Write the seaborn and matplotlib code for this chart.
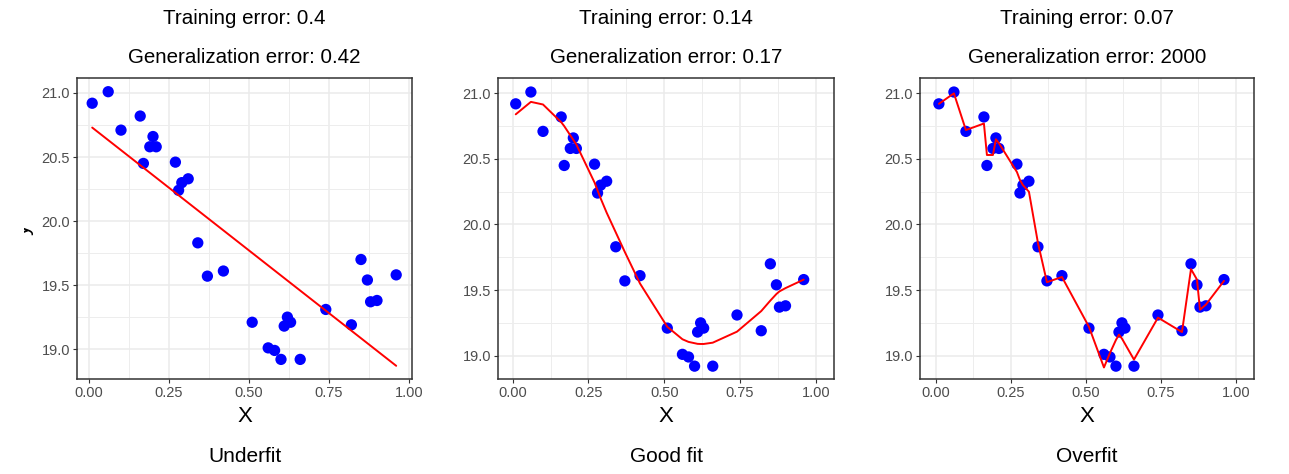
import matplotlib
matplotlib.use("Agg")
import matplotlib.pyplot as plt
import seaborn as sns
from matplotlib.ticker import MultipleLocator, FormatStrFormatter
from matplotlib.transforms import Bbox

# ---------------- data ----------------
x_vals = [0.01, 0.06, 0.10, 0.16, 0.17, 0.19, 0.20, 0.21, 0.27, 0.28, 0.29, 0.31,
          0.34, 0.37, 0.42, 0.51, 0.56, 0.58, 0.60, 0.61, 0.62, 0.63, 0.66, 0.74,
          0.82, 0.85, 0.87, 0.88, 0.90, 0.96]
y_vals = [20.92, 21.01, 20.71, 20.82, 20.45, 20.58, 20.66, 20.58, 20.46, 20.24, 20.30, 20.33,
          19.83, 19.57, 19.61, 19.21, 19.01, 18.99, 18.92, 19.18, 19.25, 19.21, 18.92, 19.31,
          19.19, 19.70, 19.54, 19.37, 19.38, 19.58]

underfit_x = [0.01, 0.96]
underfit_y = [20.73, 18.87]

goodfit_y = [20.84, 20.935, 20.915, 20.78, 20.75, 20.68, 20.645, 20.61, 20.32, 20.26, 20.20, 20.09,
             19.94, 19.79, 19.55, 19.22, 19.125, 19.105, 19.095, 19.09, 19.089, 19.089, 19.099, 19.183,
             19.34, 19.42, 19.47, 19.49, 19.515, 19.58]

overfit_y = [20.92, 21.00, 20.72, 20.77, 20.53, 20.53, 20.65, 20.62, 20.40, 20.34, 20.30, 20.25,
             19.86, 19.56, 19.60, 19.22, 18.91, 19.02, 19.12, 19.16, 19.13, 19.09, 18.97, 19.29,
             19.18, 19.66, 19.58, 19.35, 19.39, 19.57]

training_errors = ["0.4", "0.14", "0.07"]
generalization_errors = ["0.42", "0.17", "2000"]
panel_names = ["Underfit", "Good fit", "Overfit"]

# ---------------- style ----------------
sns.set_theme(style="whitegrid")
plt.rcParams['font.family'] = ['Liberation Sans', 'DejaVu Sans']

W, H = 1289, 474
fig = plt.figure(figsize=(W / 100, H / 100), dpi=100)
fig.patch.set_facecolor("white")

top_px, bot_px = 78, 379
panels = [
    dict(l=77, r=412, xlim=(-0.0375, 1.0094), ylim=(18.767, 21.117),
         lx=underfit_x, ly=underfit_y),
    dict(l=498, r=834, xlim=(-0.0485, 1.060), ylim=(18.822, 21.117),
         lx=x_vals, ly=goodfit_y),
    dict(l=920, r=1254, xlim=(-0.053, 1.060), ylim=(18.822, 21.117),
         lx=x_vals, ly=overfit_y),
]

ah = bot_px - top_px
for i, p in enumerate(panels):
    ax = fig.add_axes([p["l"] / W, 1 - bot_px / H, (p["r"] - p["l"]) / W, ah / H])
    ax.set_facecolor("white")
    sns.scatterplot(x=x_vals, y=y_vals, color="#0000FF", s=66, edgecolor="none",
                    linewidth=0, ax=ax, zorder=3)
    sns.lineplot(x=p["lx"], y=p["ly"], color="#FF0000", linewidth=1.4, ax=ax,
                 sort=False, estimator=None, zorder=4)
    ax.set_xlim(*p["xlim"])
    ax.set_ylim(*p["ylim"])
    ax.xaxis.set_major_locator(MultipleLocator(0.25))
    ax.xaxis.set_minor_locator(MultipleLocator(0.125))
    ax.yaxis.set_major_locator(MultipleLocator(0.5))
    ax.yaxis.set_minor_locator(MultipleLocator(0.25))
    ax.xaxis.set_major_formatter(FormatStrFormatter("%.2f"))
    ax.yaxis.set_major_formatter(FormatStrFormatter("%.1f"))
    ax.grid(which="major", color="#EBEBEB", linewidth=1.1)
    ax.grid(which="minor", color="#EDEDED", linewidth=0.7)
    ax.set_axisbelow(True)
    for s in ax.spines.values():
        s.set_color("#333333")
        s.set_linewidth(1.1)
    ax.tick_params(which="major", bottom=True, left=True, length=3, width=0.8,
                   color="#333333", labelsize=10.5, labelcolor="#4D4D4D", pad=2)
    ax.tick_params(which="minor", length=0)

    ax.set_xlabel("X", fontsize=16, color="black")
    ax.xaxis.label.set_va("center")
    ax.xaxis.set_label_coords(0.5, (bot_px - 416) / ah)
    ax.set_ylabel("")

    ax.text(0.5, (bot_px - 19) / ah, f"Training error: {training_errors[i]}",
            transform=ax.transAxes, ha="center", va="center", fontsize=14.8, color="black")
    ax.text(0.5, (bot_px - 57) / ah, f"Generalization error: {generalization_errors[i]}",
            transform=ax.transAxes, ha="center", va="center", fontsize=14.8, color="black")
    ax.text(0.5, (bot_px - 456) / ah, panel_names[i],
            transform=ax.transAxes, ha="center", va="center", fontsize=15, color="black")

# clipped y-axis label fragment on the far left
ylab = fig.text(34 / W, 1 - 229 / H, "y", rotation=90, ha="right", va="center",
                fontsize=16, color="black")
ylab.set_clip_box(Bbox.from_extents(24, 0, W, H))
ylab.set_clip_on(True)

fig.savefig("out.png", dpi=100, facecolor="white")
